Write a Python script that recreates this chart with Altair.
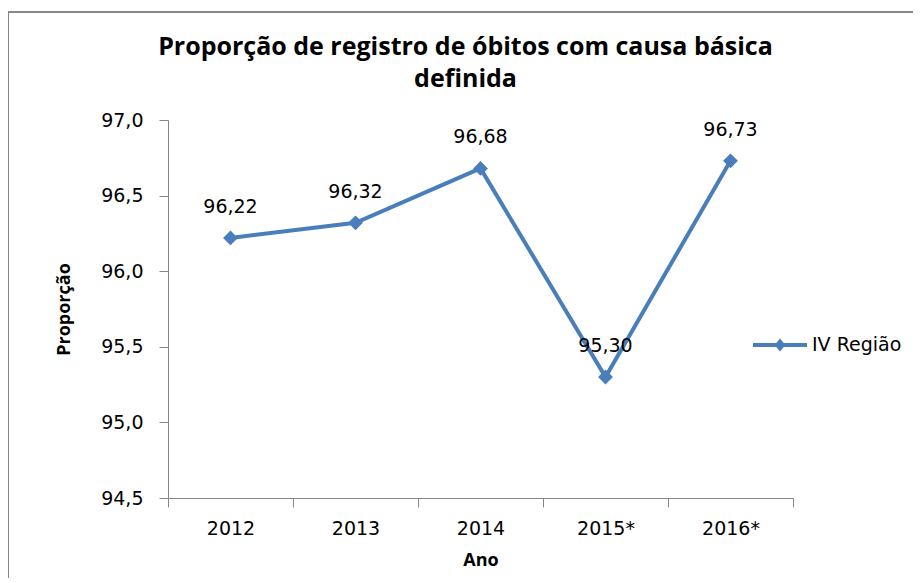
import json
import altair as alt
import pandas as pd

years = ["2012", "2013", "2014", "2015*", "2016*"]
values = [96.22, 96.32, 96.68, 95.30, 96.73]
y_ticks = [94.5, 95.0, 95.5, 96.0, 96.5, 97.0]
series_name = "IV Região"

BLUE = "#4A7EBB"
GRAY = "#868686"
LABEL_FONT = "DejaVu Sans"
TITLE_FONT = "Open Sans"

df = pd.DataFrame({
    "i": list(range(len(years))),
    "ano": years,
    "v": values,
    "label": [f"{v:.2f}".replace(".", ",") for v in values],
    "serie": [series_name] * len(years),
})

bounds = [k - 0.5 for k in range(len(years) + 1)]
label_expr = (
    f"datum.value < {len(years) - 1} ? {json.dumps(years)}[round(datum.value + 0.5)] : ''"
)

x_enc = alt.X(
    "i:Q",
    scale=alt.Scale(domain=[-0.5, len(years) - 0.5], nice=False, zero=False),
    axis=alt.Axis(
        values=bounds, labelExpr=label_expr, labelOffset=62.5, title="Ano",
        grid=False, tickSize=9, tickColor=GRAY, domainColor=GRAY,
        labelFont=LABEL_FONT, labelFontSize=19, labelColor="#000000",
        labelPadding=12, labelBound=False, labelFlush=False, labelOverlap=False,
        titleFont=TITLE_FONT, titleFontSize=18, titleFontWeight="bold",
        titleColor="#000000", titlePadding=13,
    ),
)
y_enc = alt.Y(
    "v:Q",
    scale=alt.Scale(domain=[94.5, 97.0], nice=False, zero=False),
    axis=alt.Axis(
        values=y_ticks, labelExpr="replace(format(datum.value, '.1f'), '.', ',')",
        title="Proporção", grid=False, tickSize=9, tickColor=GRAY, domainColor=GRAY,
        labelFont=LABEL_FONT, labelFontSize=19, labelColor="#000000",
        labelPadding=16, titleFont=TITLE_FONT, titleFontSize=18,
        titleFontWeight="bold", titleColor="#000000", titlePadding=27,
    ),
)

base = alt.Chart(df)

line = base.mark_line(color=BLUE, strokeWidth=4).encode(x=x_enc, y=y_enc)

legend_path = ("M-1,-0.075 L1,-0.075 L1,0.075 L-1,0.075 Z "
               "M0,-0.24 L0.2,0 L0,0.24 L-0.2,0 Z")

points = base.mark_point(shape="diamond", filled=True, size=220, opacity=1).encode(
    x="i:Q",
    y="v:Q",
    color=alt.Color(
        "serie:N",
        scale=alt.Scale(range=[BLUE]),
        legend=alt.Legend(
            title=None, orient="none", legendX=585, legendY=198,
            symbolType=legend_path, symbolSize=2916, symbolFillColor=BLUE,
            symbolStrokeWidth=0, labelFont=LABEL_FONT, labelFontSize=19,
            labelColor="#000000", labelOffset=5, padding=0,
        ),
    ),
)

labels = base.mark_text(
    font=LABEL_FONT, fontSize=19, color="#000000", dy=-31
).encode(x="i:Q", y="v:Q", text="label:N")

frame = alt.Chart(pd.DataFrame({"a": [0]})).mark_rect(
    fill="white", fillOpacity=0, stroke="#888888", strokeWidth=2
).encode(
    x=alt.value(-160), x2=alt.value(900), y=alt.value(-108), y2=alt.value(600)
)

chart = alt.layer(frame, line, points, labels).properties(
    width=625,
    height=378,
    title=alt.TitleParams(
        ["Proporção de registro de óbitos com causa básica", "definida"],
        font=TITLE_FONT, fontSize=25, fontWeight="bold", color="#000000",
        anchor="middle", frame="group", dx=-15, dy=81, lineHeight=32, offset=0,
    ),
    autosize=alt.AutoSizeParams(type="none"),
    padding={"left": 160, "top": 112, "right": 120, "bottom": 80},
).configure_view(stroke=None)

chart.save("out.html", embed_options={"renderer": "svg", "actions": False})
